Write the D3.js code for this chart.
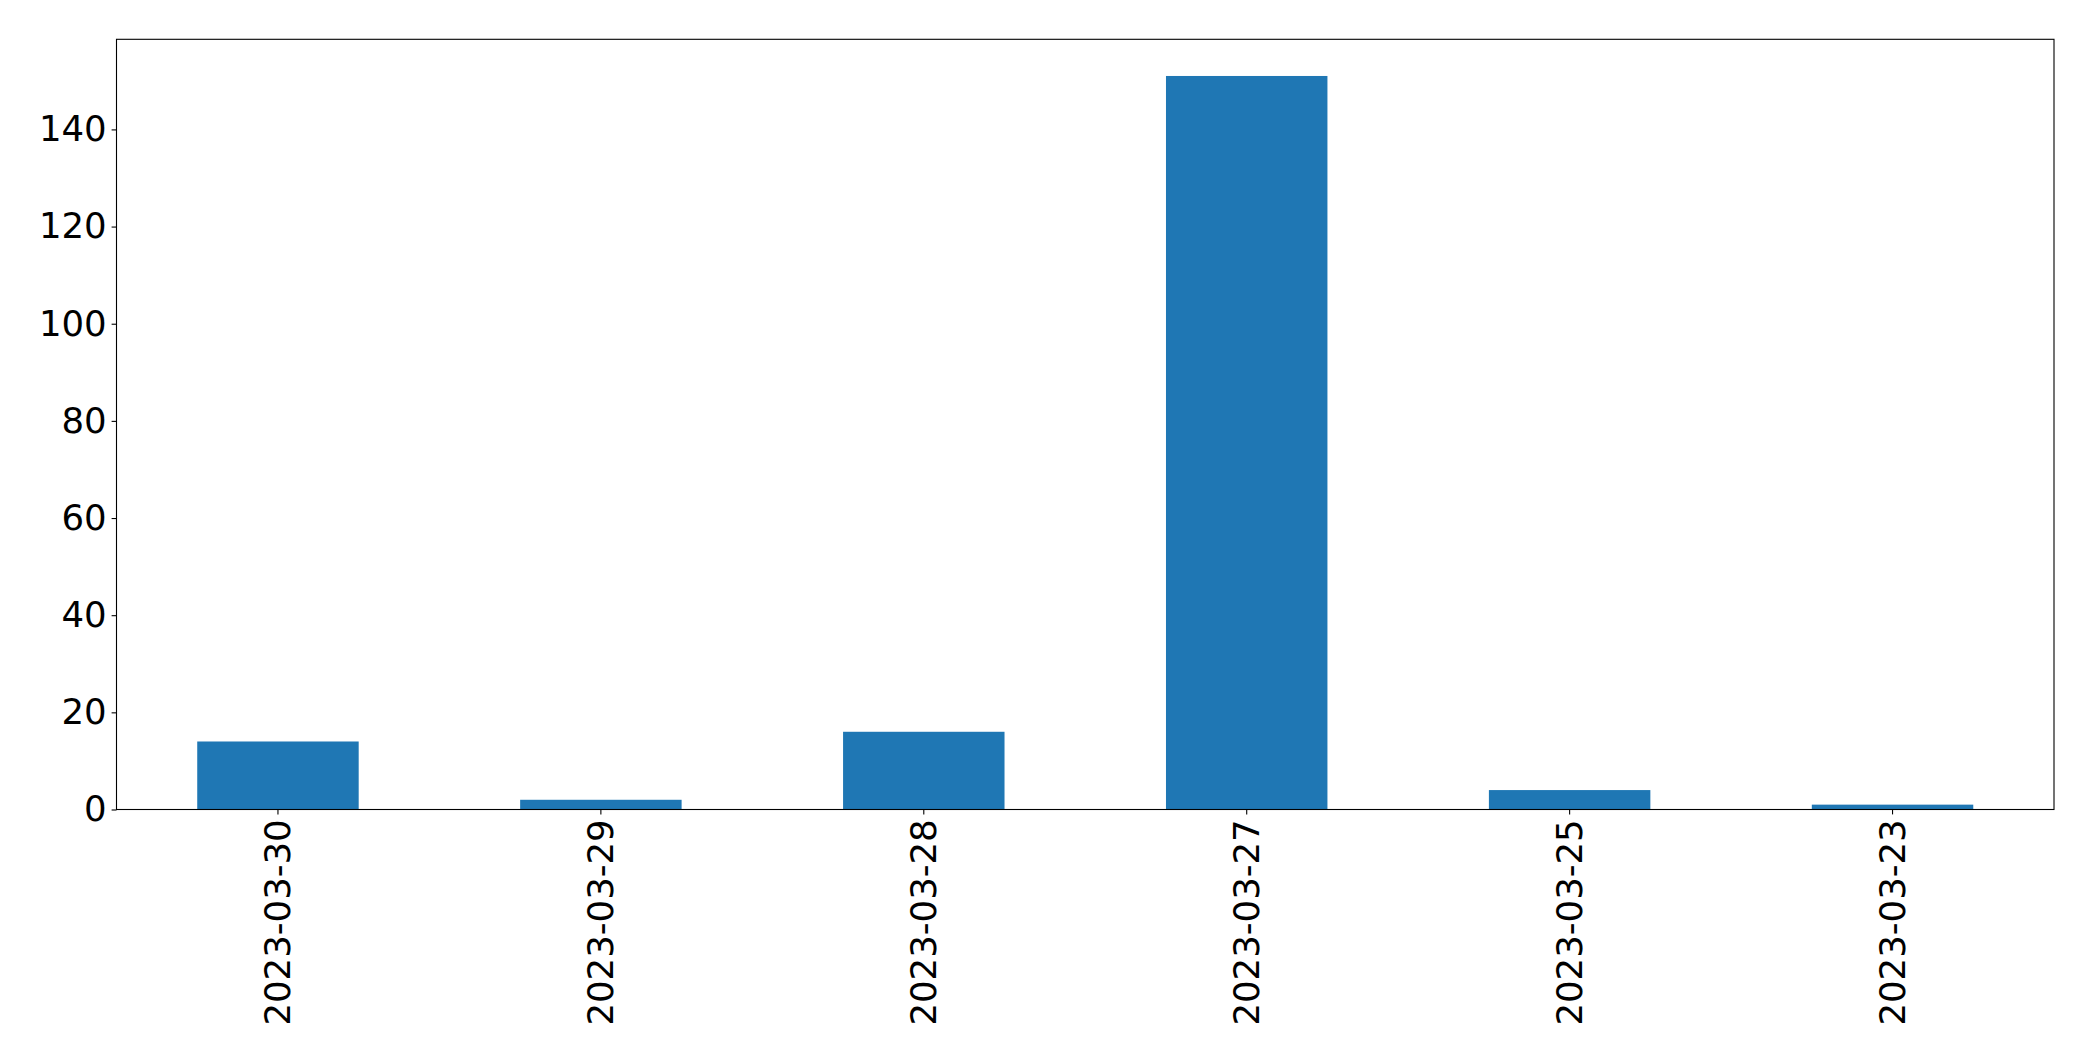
<!DOCTYPE html>
<html>
<head>
<meta charset="utf-8">
<script src="https://cdn.jsdelivr.net/npm/d3@7"></script>
<style>
  html, body { margin: 0; padding: 0; background: #fff; }
  svg { display: block; }
</style>
</head>
<body>
<svg id="chart" width="2093" height="1061"></svg>
<script>
const categories = ["2023-03-30", "2023-03-29", "2023-03-28", "2023-03-27", "2023-03-25", "2023-03-23"];
const values = [14, 2, 16, 151, 4, 1];
const yTicks = [0, 20, 40, 60, 80, 100, 120, 140];

const W = 2093, H = 1061;
const margin = { left: 116.5, right: W - 2054, top: 39.3, bottom: H - 809.5 };
const iw = W - margin.left - margin.right;
const ih = H - margin.top - margin.bottom;

const svg = d3.select("#chart");
const g = svg.append("g").attr("transform", `translate(${margin.left},${margin.top})`);

const x = d3.scaleBand().domain(categories).range([0, iw]).paddingInner(0.5).paddingOuter(0.25);
const y = d3.scaleLinear().domain([0, d3.max(values) * 1.05]).range([ih, 0]);

g.selectAll("rect.bar").data(values).enter().append("rect")
  .attr("class", "bar")
  .attr("x", (d, i) => x(categories[i]))
  .attr("width", x.bandwidth())
  .attr("y", d => y(d))
  .attr("height", d => y(0) - y(d))
  .attr("fill", "#1f77b4");

const font = "'DejaVu Sans', sans-serif";
const fs = 35.5;

const yAxis = g.append("g").call(d3.axisLeft(y).tickValues(yTicks).tickSize(4.9).tickPadding(4.9).tickFormat(d3.format("d")));
const xAxis = g.append("g").attr("transform", `translate(0,${ih})`)
  .call(d3.axisBottom(x).tickSize(4.9).tickPadding(4.9));

[yAxis, xAxis].forEach(a => {
  a.select(".domain").remove();
  a.selectAll("line").attr("stroke", "#000").attr("stroke-width", 1.1);
  a.selectAll("text").attr("fill", "#000").style("font-family", font).style("font-size", fs + "px");
});

xAxis.selectAll("text")
  .attr("transform", "rotate(-90)")
  .attr("text-anchor", "end")
  .attr("x", -9.8)
  .attr("y", 0)
  .attr("dy", "0.35em");

g.append("rect")
  .attr("x", 0).attr("y", 0).attr("width", iw).attr("height", ih)
  .attr("fill", "none").attr("stroke", "#000").attr("stroke-width", 1.1);
</script>
</body>
</html>
